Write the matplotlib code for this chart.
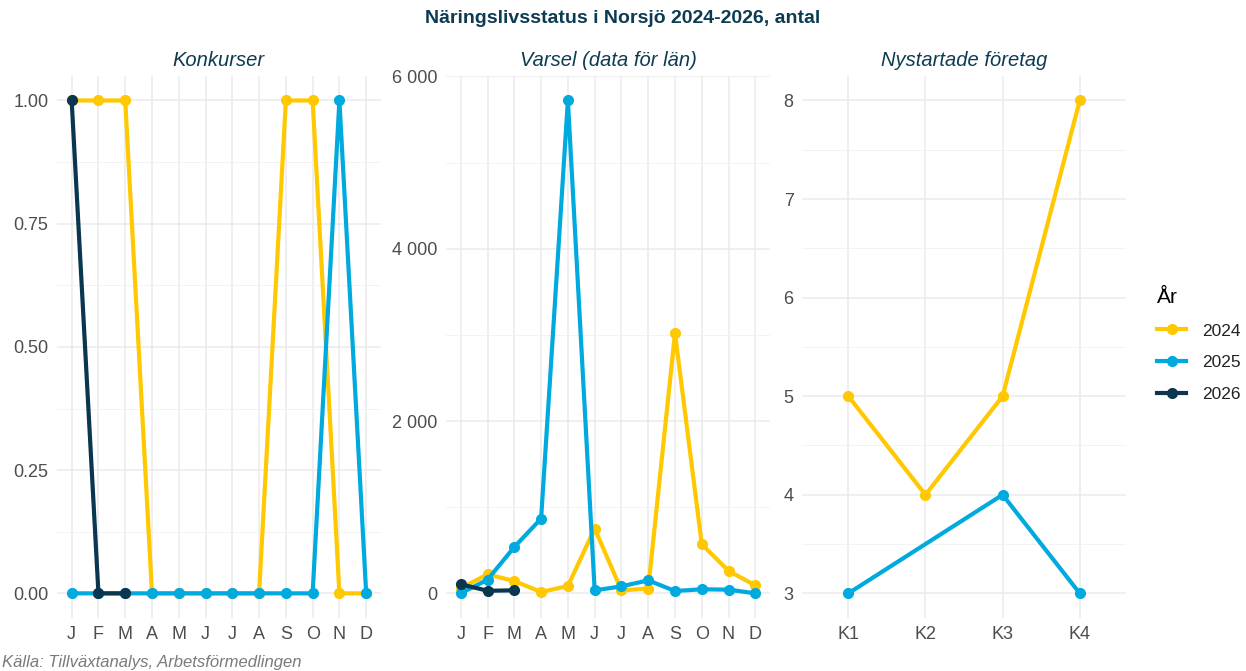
import numpy as np
import matplotlib
matplotlib.use("Agg")
import matplotlib.pyplot as plt
from matplotlib.ticker import FuncFormatter, MultipleLocator
from matplotlib.lines import Line2D

plt.rcParams["font.family"] = ["Liberation Sans", "DejaVu Sans"]

MONTHS = ["J", "F", "M", "A", "M", "J", "J", "A", "S", "O", "N", "D"]
QUARTERS = ["K1", "K2", "K3", "K4"]
YEARS = ["2024", "2025", "2026"]
COLORS = {"2024": "#FFC800", "2025": "#00AADF", "2026": "#0A3650"}

# Konkurser per month
konkurser = {
    "2024": [1, 1, 1, 0, 0, 0, 0, 0, 1, 1, 0, 0],
    "2025": [0, 0, 0, 0, 0, 0, 0, 0, 0, 0, 1, 0],
    "2026": [1, 0, 0],
}

# Varsel per month (county level)
varsel = {
    "2024": [60, 220, 143, 15, 85, 752, 35, 55, 3020, 570, 260, 93],
    "2025": [0, 159, 538, 868, 5720, 35, 81, 151, 27, 47, 43, 0],
    "2026": [105, 30, 35],
}

# Nystartade foretag per quarter (2025 K2 missing)
nystartade_q = {
    "2024": ["K1", "K2", "K3", "K4"],
    "2025": ["K1", "K3", "K4"],
}
nystartade = {
    "2024": [5, 4, 5, 8],
    "2025": [3, 4, 3],
}

TXT = "#4d4d4d"
NAVY = "#0c3b52"

fig = plt.figure(figsize=(12.46, 6.71), dpi=100)
bottom, height = 0.079, 0.808
w = 0.26
axes = [fig.add_axes([l, bottom, w, height]) for l in (0.0457, 0.358, 0.6437)]


def style(ax):
    ax.set_facecolor("white")
    for s in ax.spines.values():
        s.set_visible(False)
    ax.grid(True, which="major", color="#ebebeb", lw=1.1, zorder=0)
    ax.grid(True, which="minor", axis="y", color="#f3f3f3", lw=0.7, zorder=0)
    ax.tick_params(axis="both", which="both", length=0, labelsize=13,
                   labelcolor=TXT, pad=6)
    ax.set_axisbelow(True)


def line(ax, x, y, color):
    ax.plot(x, y, color=color, lw=3, marker="o", ms=7, zorder=3,
            solid_capstyle="round")


# Konkurser
ax = axes[0]
for yr in YEARS:
    v = konkurser[yr]
    line(ax, np.arange(len(v)), v, COLORS[yr])
ax.set_ylim(-0.05, 1.05)
ax.yaxis.set_major_locator(MultipleLocator(0.25))
ax.yaxis.set_minor_locator(MultipleLocator(0.125))
ax.yaxis.set_major_formatter(FuncFormatter(lambda v, p: f"{v:.2f}"))

# Varsel
ax = axes[1]
for yr in YEARS:
    v = varsel[yr]
    line(ax, np.arange(len(v)), v, COLORS[yr])
ax.set_ylim(-0.05 * 5720, 1.05 * 5720)
ax.yaxis.set_major_locator(MultipleLocator(2000))
ax.yaxis.set_minor_locator(MultipleLocator(1000))
ax.yaxis.set_major_formatter(
    FuncFormatter(lambda v, p: f"{int(v):,}".replace(",", " ")))

for ax in axes[:2]:
    ax.set_xticks(np.arange(12))
    ax.set_xticklabels(MONTHS)
    ax.set_xlim(-0.55, 11.55)
    style(ax)

# Nystartade
ax = axes[2]
for yr in ["2024", "2025"]:
    xs = [QUARTERS.index(q) for q in nystartade_q[yr]]
    line(ax, xs, nystartade[yr], COLORS[yr])
ax.set_xticks(np.arange(4))
ax.set_xticklabels(QUARTERS)
ax.set_xlim(-0.6, 3.6)
ax.set_ylim(3 - 0.25, 8 + 0.25)
ax.yaxis.set_major_locator(MultipleLocator(1))
ax.yaxis.set_minor_locator(MultipleLocator(0.5))
style(ax)

titles = ["Konkurser", "Varsel (data för län)", "Nystartade företag"]
for ax, t in zip(axes, titles):
    ax.set_title(t, style="italic", fontsize=14.5, color=NAVY, pad=7)

fig.text(0.5, 0.973, "Näringslivsstatus i Norsjö 2024-2026, antal",
         ha="center", va="center", fontsize=14, fontweight="bold", color=NAVY)
fig.text(0.002, 0.012, "Källa: Tillväxtanalys, Arbetsförmedlingen",
         ha="left", va="center", fontsize=12, style="italic", color="#7a7a7a")

handles = [Line2D([0], [0], color=COLORS[y], lw=3, marker="o", ms=7)
           for y in YEARS]
leg = fig.legend(handles, YEARS, title="År", loc="center left",
                 bbox_to_anchor=(0.916, 0.486), frameon=False, fontsize=12.5,
                 title_fontsize=15, handlelength=1.7, labelspacing=0.95,
                 handletextpad=0.9)
leg._legend_box.align = "left"
for t in leg.get_texts():
    t.set_color("#222222")

fig.savefig("out.png", dpi=100, facecolor="white")
